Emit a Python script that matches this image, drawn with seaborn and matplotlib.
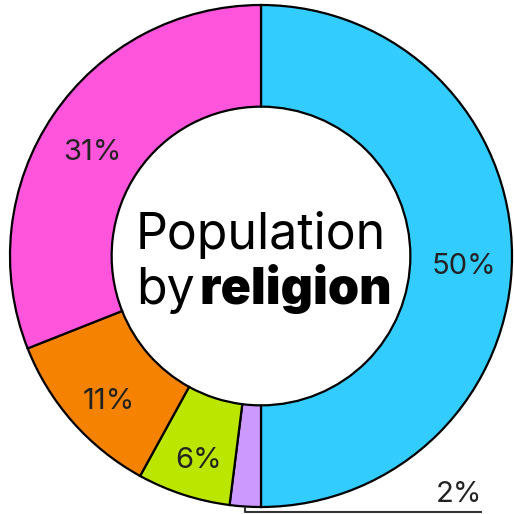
import numpy as np
import matplotlib
matplotlib.use("Agg")
import matplotlib.pyplot as plt
import seaborn as sns

labels = ["Group A", "Group B", "Group C", "Group D", "Group E"]
values = [50, 2, 6, 11, 31]
colors = ["#33CCFF", "#CC99FF", "#BBE600", "#F58200", "#FF55DD"]

sns.set_theme(style="white")
plt.rcParams["font.family"] = ["Inter", "DejaVu Sans"]

fig = plt.figure(figsize=(5.14, 5.14), dpi=100)
ax = fig.add_axes([0, 0, 1, 1])

cx, cy, R = 261, 258, 251
wedges, _ = ax.pie(
    values, colors=sns.color_palette(colors), startangle=90, counterclock=False,
    center=(cx, cy), radius=R, frame=True,
    wedgeprops=dict(width=R * 0.405, edgecolor="black", linewidth=1.6),
)
ax.set_xlim(0, 514)
ax.set_ylim(0, 514)
ax.set_aspect("equal")
ax.axis("off")

# in-ring percentage labels (the thin slice gets a leader line instead)
for w, v in zip(wedges, values):
    if v < 4:
        continue
    mid = np.deg2rad((w.theta1 + w.theta2) / 2)
    r = R * 0.81
    ax.text(cx + r * np.cos(mid), cy + r * np.sin(mid) - 11, f"{v}%",
            ha="center", va="center", fontsize=21, color="#222222")

# leader line for the thin slice
w = wedges[1]
mid = np.deg2rad((w.theta1 + w.theta2) / 2)
x0, y0 = cx + R * np.cos(mid), cy + R * np.sin(mid)
ax.plot([x0, x0, 482], [y0, 2, 2], color="#333333", lw=1.5, solid_capstyle="butt")
ax.text(482, 12, f"{values[1]}%", ha="right", va="baseline", fontsize=21, color="#222222")

# centre title
ax.text(cx, 265, "Population", ha="center", va="baseline", fontsize=36, color="black")
fig.canvas.draw()
rend = fig.canvas.get_renderer()
tb = ax.text(0, 210, "by", ha="left", va="baseline", fontsize=36, color="black")
tr = ax.text(0, 210, "religion", ha="left", va="baseline", fontsize=36,
             fontweight=900, color="black")
wb = tb.get_window_extent(rend).width
wr = tr.get_window_extent(rend).width
gap = 5
left = 264 - (wb + gap + wr) / 2
tb.set_x(left)
tr.set_x(left + wb + gap)

fig.savefig("out.png", dpi=100)
